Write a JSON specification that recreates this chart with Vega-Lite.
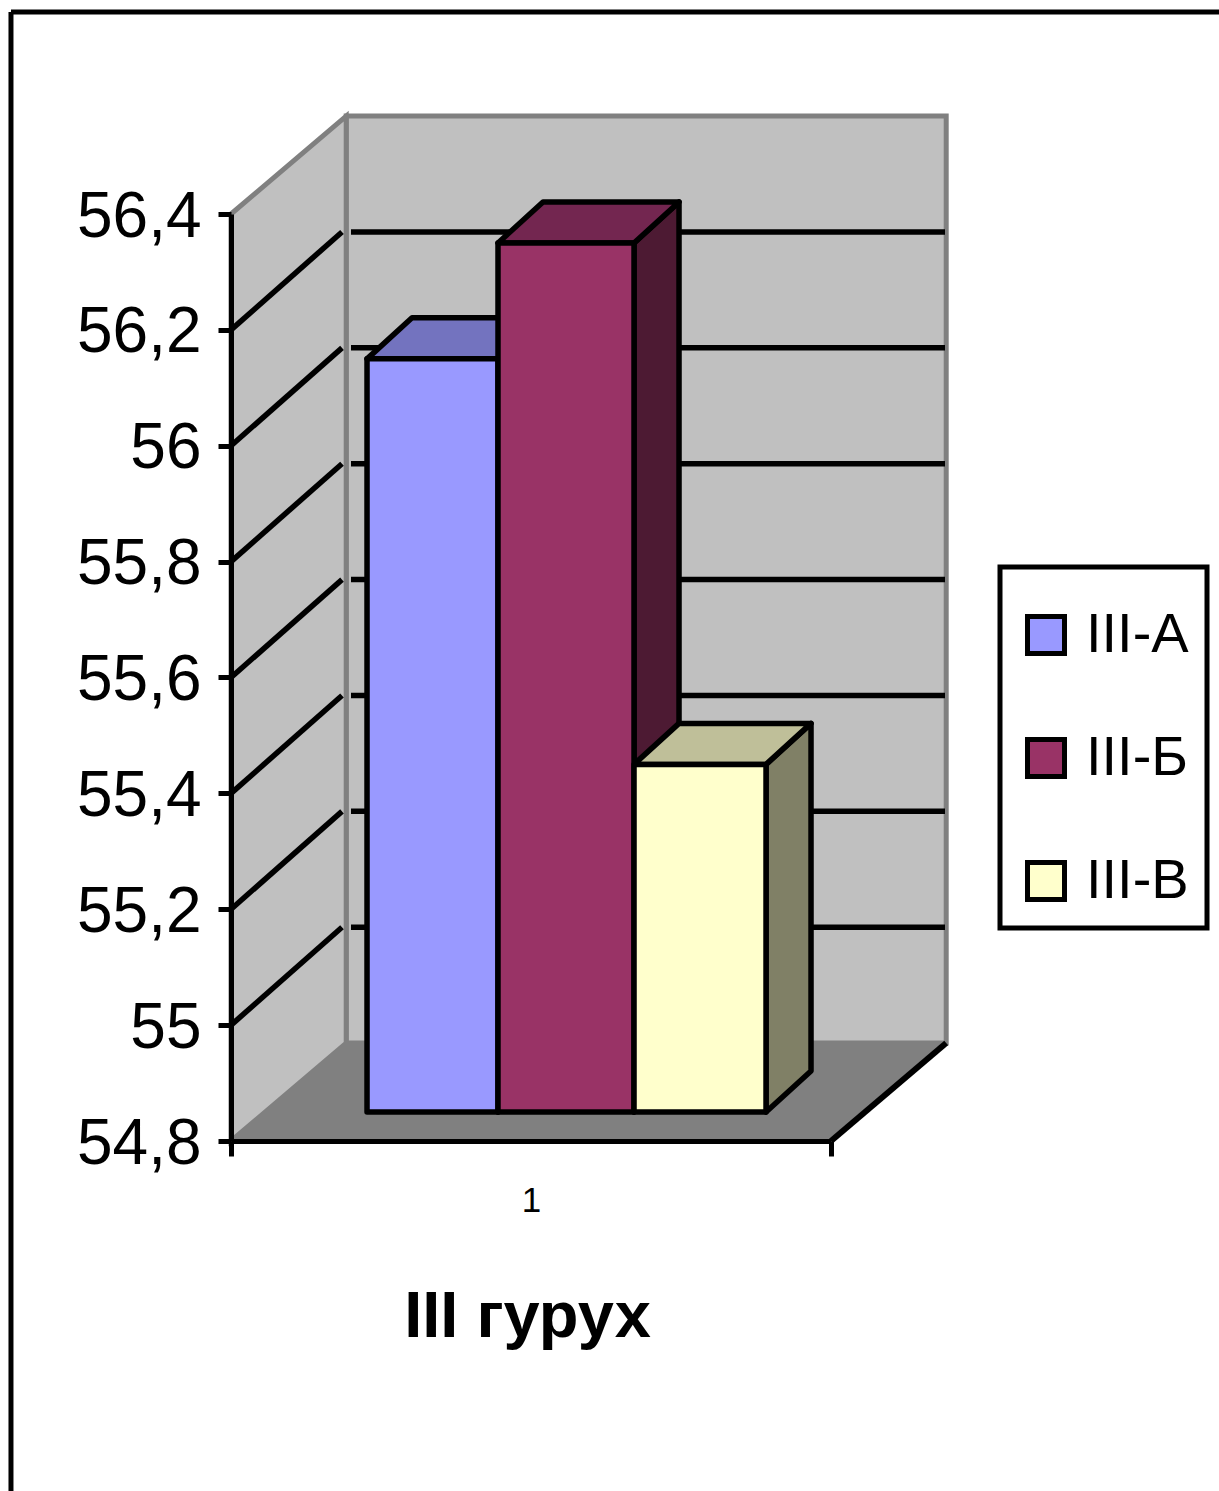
{
"$schema":"https://vega.github.io/schema/vega-lite/v6.json",
"width":600,"height":927,
"autosize":{"type":"none"},
"padding":{"left":231,"top":214,"right":388,"bottom":350},
"background":"white",
"config":{"view":{"stroke":null},"font":"Liberation Sans","legend":{"strokeWidth":5}},
"datasets":{
"bars":[
{"series":"III-А","value":56.1,"start":0.2267,"end":0.445},
{"series":"III-Б","value":56.3,"start":0.445,"end":0.6717},
{"series":"III-В","value":55.4,"start":0.6717,"end":0.8917}],
"grid":[{"v":55.0},{"v":55.2},{"v":55.4},{"v":55.6},{"v":55.8},{"v":56.0},{"v":56.2}],
"frame":[
{"x":-0.3667,"x2":1.6467,"y":56.7486,"y2":56.7486},
{"x":-0.3667,"x2":-0.3667,"y":56.7486,"y2":54.196}],
"leftWall":[{"x":0,"lo":54.8,"hi":56.4},{"x":0.192,"lo":54.969,"hi":56.569}],
"floor":[{"y":54.8,"x":0,"x2":1},{"y":54.969,"x":0.192,"x2":1.192}],
"backWall":[{"x":0.192,"x2":1.192,"y":54.969,"y2":56.569}],
"floorEdge":[{"x":1,"x2":1.192,"y":54.8,"y2":54.969}]
},
"layer":[
{"data":{"name":"frame"},"mark":{"type":"rule","stroke":"#000","strokeWidth":5,"clip":false},
 "encoding":{"x":{"field":"x","type":"quantitative","scale":{"domain":[0,1],"nice":false,"zero":false},
   "axis":{"values":[0,0.5,1],"labelExpr":"datum.value==0.5?'1':''","title":"III гурух","grid":false,"zindex":1,
     "domainColor":"#000","domainWidth":5,"tickColor":"#000","tickWidth":5,"tickSize":15,
     "tickOpacity":{"condition":{"test":"datum.value==0.5","value":0},"value":1},
     "labelFontSize":35,"labelColor":"#000","labelPadding":27,"labelOverlap":false,"labelBound":false,"labelFlush":false,"labelFont":"Liberation Sans",
     "titleFontSize":65,"titleFontWeight":"bold","titleColor":"#000","titleFont":"Liberation Sans","titleX":296,"titleY":195,"titleBaseline":"alphabetic","titleAnchor":"middle","titleAlign":"center"}},
  "x2":{"field":"x2"},
  "y":{"field":"y","type":"quantitative","scale":{"domain":[54.8,56.4],"nice":false,"zero":false},
   "axis":{"values":[54.8,55,55.2,55.4,55.6,55.8,56,56.2,56.4],"labelExpr":"replace(toString(datum.value),'.',',')","title":null,"grid":false,"zindex":1,
     "domainColor":"#000","domainWidth":5,"tickColor":"#000","tickWidth":5,"tickSize":13,
     "labelFontSize":64,"labelColor":"#000","labelPadding":17,"labelOffset":3,"labelOverlap":false,"labelBound":false,"labelFlush":false,"labelFont":"Liberation Sans"}},
  "y2":{"field":"y2"}}},
{"data":{"name":"backWall"},"mark":{"type":"rect","fill":"#c0c0c0","stroke":"#808080","strokeWidth":5,"clip":false},
 "encoding":{"x":{"field":"x","type":"quantitative"},"x2":{"field":"x2"},"y":{"field":"y","type":"quantitative"},"y2":{"field":"y2"}}},
{"data":{"name":"leftWall"},"mark":{"type":"area","orient":"vertical","fill":"#c0c0c0","stroke":"#808080","strokeWidth":5,"clip":false},
 "encoding":{"x":{"field":"x","type":"quantitative"},"y":{"field":"hi","type":"quantitative","stack":null},"y2":{"field":"lo"}}},
{"data":{"name":"floor"},"mark":{"type":"area","orient":"horizontal","fill":"#808080","clip":false},
 "encoding":{"y":{"field":"y","type":"quantitative"},"x":{"field":"x","type":"quantitative","stack":null},"x2":{"field":"x2"}}},
{"data":{"name":"floorEdge"},"mark":{"type":"rule","stroke":"#000","strokeWidth":6,"clip":false},
 "encoding":{"x":{"field":"x","type":"quantitative"},"x2":{"field":"x2"},"y":{"field":"y","type":"quantitative"},"y2":{"field":"y2"}}},
{"data":{"name":"grid"},"transform":[{"calculate":"datum.v+0.169","as":"vb"},{"calculate":"0","as":"x0"},{"calculate":"0.185","as":"x1"}],
 "mark":{"type":"rule","stroke":"#000","strokeWidth":5.5,"clip":false},
 "encoding":{"x":{"field":"x0","type":"quantitative"},"x2":{"field":"x1"},"y":{"field":"v","type":"quantitative"},"y2":{"field":"vb"}}},
{"data":{"name":"grid"},"transform":[{"calculate":"datum.v+0.169","as":"vb"},{"calculate":"0.2","as":"x0"},{"calculate":"1.19","as":"x1"}],
 "mark":{"type":"rule","stroke":"#000","strokeWidth":5.5,"clip":false},
 "encoding":{"x":{"field":"x0","type":"quantitative"},"x2":{"field":"x1"},"y":{"field":"vb","type":"quantitative"}}},
{"data":{"name":"bars"},"transform":[
  {"calculate":"datum.end+0.075","as":"endBack"},
  {"fold":["end","endBack"],"as":["corner","px"]},
  {"calculate":"datum.value+0.05+(datum.corner==='endBack'?0.0708:0)","as":"hi"},
  {"calculate":"54.85+(datum.corner==='endBack'?0.0708:0)","as":"lo"}],
 "mark":{"type":"area","orient":"vertical","stroke":"#000","strokeWidth":5.5,"strokeJoin":"round","clip":false},
 "encoding":{"x":{"field":"px","type":"quantitative"},"y":{"field":"hi","type":"quantitative","stack":null},"y2":{"field":"lo"},
  "detail":{"field":"series"},
  "fill":{"field":"series","type":"nominal","legend":null,"scale":{"domain":["III-А","III-Б","III-В"],"range":["#4d4d80","#4d1a33","#808066"]}}}},
{"data":{"name":"bars"},"transform":[
  {"calculate":"datum.value+0.05","as":"yFront"},
  {"calculate":"datum.value+0.1208","as":"yBack"},
  {"fold":["yFront","yBack"],"as":["corner","py"]},
  {"calculate":"datum.start+(datum.corner==='yBack'?0.075:0)","as":"xa"},
  {"calculate":"datum.end+(datum.corner==='yBack'?0.075:0)","as":"xb"}],
 "mark":{"type":"area","orient":"horizontal","stroke":"#000","strokeWidth":5.5,"strokeJoin":"round","clip":false},
 "encoding":{"y":{"field":"py","type":"quantitative"},"x":{"field":"xa","type":"quantitative","stack":null},"x2":{"field":"xb"},
  "detail":{"field":"series"},
  "fill":{"field":"series","type":"nominal","legend":null,"scale":{"domain":["III-А","III-Б","III-В"],"range":["#7373bf","#732650","#bfbf99"]}}}},
{"data":{"name":"bars"},"transform":[{"calculate":"datum.value+0.05","as":"top"},{"calculate":"54.85","as":"base"}],
 "mark":{"type":"rect","stroke":"#000","strokeWidth":5.5,"strokeJoin":"round","clip":false},
 "encoding":{"x":{"field":"start","type":"quantitative"},"x2":{"field":"end"},"y":{"field":"top","type":"quantitative"},"y2":{"field":"base"},
  "fill":{"field":"series","type":"nominal","scale":{"domain":["III-А","III-Б","III-В"],"range":["#9999ff","#993366","#ffffcc"]},
   "legend":{"title":" ","titleFontSize":1,"titlePadding":21,"orient":"none","legendX":769,"legendY":353,"padding":18,"strokeColor":"#000","fillColor":"#fff",
     "symbolType":"square","symbolSize":1369,"symbolStrokeColor":"#000","symbolStrokeWidth":5,"labelFontSize":56,"labelColor":"#000","labelFont":"Liberation Sans","labelOffset":12,"rowPadding":65,"labelLimit":300}}}}
],
"resolve":{"scale":{"fill":"independent"}}
}
